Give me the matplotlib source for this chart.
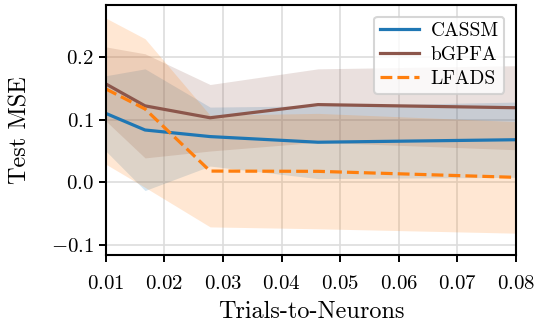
import matplotlib
matplotlib.use("Agg")
import matplotlib.pyplot as plt
import numpy as np

plt.rcParams['font.family'] = ['cmr10']
plt.rcParams['mathtext.fontset'] = 'cm'
plt.rcParams['axes.formatter.use_mathtext'] = True
plt.rcParams['axes.unicode_minus'] = True

x = [0.01, 0.0167, 0.0278, 0.0462, 0.08]

cassm = [0.110, 0.0835, 0.073, 0.064, 0.068]
cassm_hi = [0.170, 0.181, 0.120, 0.122, 0.128]
cassm_lo = [0.050, -0.013, 0.026, 0.006, 0.008]

bgpfa = [0.157, 0.122, 0.103, 0.124, 0.119]
bgpfa_hi = [0.216, 0.205, 0.156, 0.181, 0.186]
bgpfa_lo = [0.098, 0.039, 0.050, 0.064, 0.052]

lfads = [0.149, 0.117, 0.018, 0.0176, 0.008]
lfads_hi = [0.262, 0.229, 0.107, 0.110, 0.097]
lfads_lo = [0.029, -0.008, -0.071, -0.074, -0.081]

xticks = [0.01, 0.02, 0.03, 0.04, 0.05, 0.06, 0.07, 0.08]
yticks = [-0.1, 0.0, 0.1, 0.2]

fig = plt.figure(figsize=(5.37, 3.25), dpi=100)
ax = fig.add_axes([0.197, 0.215, 0.764, 0.770])

series = [
    ("CASSM", cassm, cassm_lo, cassm_hi, "tab:blue", "-"),
    ("bGPFA", bgpfa, bgpfa_lo, bgpfa_hi, "tab:brown", "-"),
    ("LFADS", lfads, lfads_lo, lfads_hi, "tab:orange", "--"),
]
for name, y, lo, hi, c, ls in series:
    ax.fill_between(x, lo, hi, color=c, alpha=0.18, linewidth=0)
for name, y, lo, hi, c, ls in series:
    ax.plot(x, y, color=c, ls=ls, lw=2.3, label=name)

ax.set_xlim(0.01, 0.08)
ax.set_ylim(-0.116, 0.283)
ax.set_xticks(xticks)
ax.set_yticks(yticks)
ax.grid(True, color="#dddddd", lw=1.2)
ax.set_axisbelow(True)
ax.tick_params(direction="out", length=5, width=1.4, labelsize=15)
ax.tick_params(axis="x", pad=9)
for s in ax.spines.values():
    s.set_linewidth(1.5)
ax.set_xlabel("Trials-to-Neurons", fontsize=17.5, labelpad=6)
ax.set_ylabel("Test MSE", fontsize=17.5, labelpad=14)
leg = ax.legend(loc="upper right", fontsize=14, framealpha=0.8, edgecolor="#cccccc",
                handlelength=2.0, borderpad=0.3, labelspacing=0.3, handletextpad=0.6,
                borderaxespad=0.6)
leg.get_frame().set_linewidth(1.5)
fig.savefig("out.png", dpi=100)
